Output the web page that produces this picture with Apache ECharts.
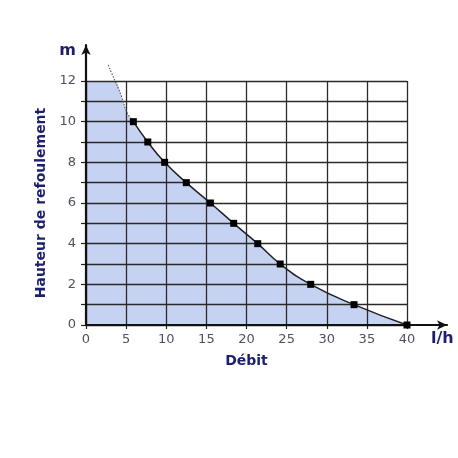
<!DOCTYPE html>
<html><head><meta charset="utf-8">
<script src="https://cdn.jsdelivr.net/npm/echarts@6/dist/echarts.min.js"></script>
<style>html,body{margin:0;padding:0;background:#fff}#c{width:458px;height:458px}</style>
</head><body><div id="c"></div>
<script>
// Data
const flow = [5.9, 7.7, 9.8, 12.5, 15.5, 18.4, 21.4, 24.2, 28.0, 33.4, 40];
const head = [10, 9, 8, 7, 6, 5, 4, 3, 2, 1, 0];
const extrapFlow = [2.78, 3.2, 4.44, 5.07, 5.9];
const extrapHead = [12.78, 12.38, 11.23, 10.49, 10];
const fillFlow = [0, 3.35, 4.44, 5.07];
const fillHead = [12, 12, 11.23, 10.49];
const xTicks = [0, 5, 10, 15, 20, 25, 30, 35, 40];
const yTicks = [0, 2, 4, 6, 8, 10, 12];

const navy = '#1c1f6e';
const labelColor = '#4f5060';
const font = 'DejaVu Sans';
const curve = flow.map((v, i) => [v, head[i]]);
const extrap = extrapFlow.map((v, i) => [v, extrapHead[i]]);
const fill = fillFlow.map((v, i) => [v, fillHead[i]]).concat(curve);

const chart = echarts.init(document.getElementById('c'), null, {renderer: 'canvas'});
chart.setOption({
  animation: false,
  textStyle: {fontFamily: font},
  grid: [
    {left: 86, right: 51, top: 81, bottom: 133},
    {left: 86, right: 11, top: 45, bottom: 133}
  ],
  xAxis: [
    {gridIndex: 0, type: 'value', min: 0, max: 40, interval: 5, z: 3,
     name: 'Débit', nameLocation: 'middle', nameGap: 29,
     nameTextStyle: {color: navy, fontWeight: 'bold', fontSize: 14, fontFamily: font},
     axisLine: {show: false},
     axisTick: {show: true, length: 4, lineStyle: {color: '#222', width: 1.2}},
     axisLabel: {color: labelColor, fontSize: 13, margin: 8, fontFamily: font,
                 formatter: v => xTicks.includes(v) ? String(v) : ''},
     splitLine: {show: true, lineStyle: {color: '#2a2a2a', width: 1.3}}},
    {gridIndex: 1, type: 'value', min: 0, max: 1, z: 5,
     name: 'l/h', nameLocation: 'end', nameGap: -16,
     nameTextStyle: {color: navy, fontWeight: 'bold', fontSize: 16, verticalAlign: 'top', padding: [6, 0, 0, 0], fontFamily: font},
     axisLine: {show: true, symbol: ['none', 'arrow'], symbolSize: [7, 10], lineStyle: {color: '#111', width: 2.2}},
     axisTick: {show: false}, axisLabel: {show: false}, splitLine: {show: false}}
  ],
  yAxis: [
    {gridIndex: 0, type: 'value', min: 0, max: 12, interval: 1, z: 3,
     name: 'Hauteur de refoulement', nameLocation: 'middle', nameGap: 33,
     nameTextStyle: {color: navy, fontWeight: 'bold', fontSize: 14, fontFamily: font},
     axisLine: {show: false},
     axisTick: {show: true, length: 5, lineStyle: {color: '#222', width: 1.2}},
     axisLabel: {color: labelColor, fontSize: 13, margin: 10, fontFamily: font,
                 formatter: v => yTicks.includes(v) ? String(v) : ''},
     splitLine: {show: true, lineStyle: {color: '#2a2a2a', width: 1.3}}},
    {gridIndex: 1, type: 'value', min: 0, max: 1, z: 5,
     name: 'm', nameLocation: 'end', nameGap: -14,
     nameTextStyle: {color: navy, fontWeight: 'bold', fontSize: 16, align: 'right', padding: [0, 10, 0, 0], fontFamily: font},
     axisLine: {show: true, symbol: ['none', 'arrow'], symbolSize: [7, 10], lineStyle: {color: '#111', width: 2.2}},
     axisTick: {show: false}, axisLabel: {show: false}, splitLine: {show: false}}
  ],
  series: [
    {type: 'line', xAxisIndex: 0, yAxisIndex: 0, data: fill, smooth: 0.5,
     showSymbol: false, lineStyle: {width: 0, opacity: 0},
     areaStyle: {color: '#c6d2f1', opacity: 1}, z: 1, silent: true},
    {type: 'line', xAxisIndex: 0, yAxisIndex: 0, data: extrap, smooth: 0.5, clip: false,
     showSymbol: false, lineStyle: {color: '#555', width: 1.1, type: [1.5, 1.5]}, z: 4},
    {type: 'line', xAxisIndex: 0, yAxisIndex: 0, data: curve, smooth: 0.5,
     symbol: 'rect', symbolSize: 7, showAllSymbol: true,
     itemStyle: {color: '#000'}, lineStyle: {color: '#222', width: 1.5}, z: 6}
  ]
});
</script></body></html>
